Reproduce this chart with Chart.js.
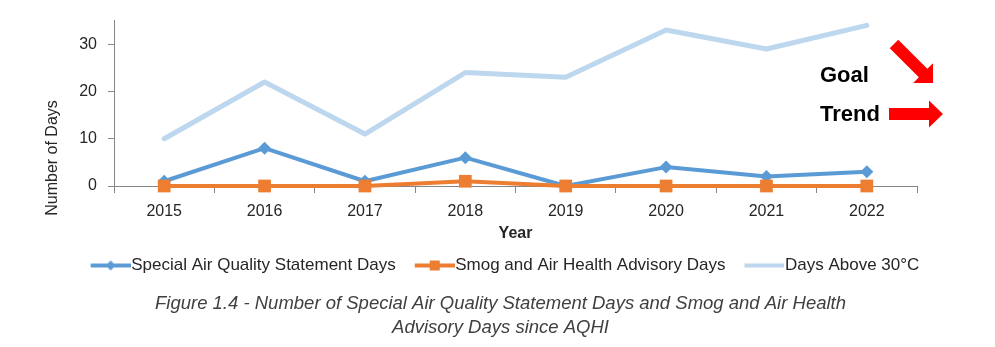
<!DOCTYPE html>
<html lang="en">
<head>
    <meta charset="UTF-8">
    <title>Special Air Quality Statement Days</title>
    <style>
        html, body { margin: 0; padding: 0; background: #fff; }
        #chart-container { width: 995px; height: 347px; }
    </style>
</head>
<body>
    <div id="chart-container">
        <canvas id="myChart"></canvas>
    </div>
    <script src="https://cdn.jsdelivr.net/npm/chart.js"></script>
    <script>
        // data
        const years = ['2015', '2016', '2017', '2018', '2019', '2020', '2021', '2022'];
        const statementDays = [1, 8, 1, 6, 0, 4, 2, 3];
        const smogDays = [0, 0, 0, 1, 0, 0, 0, 0];
        const hotDays = [10, 22, 11, 24, 23, 33, 29, 34];
        const yTicks = [0, 10, 20, 30];

        const BLUE = '#5B9BD5';
        const ORANGE = '#ED7D31';
        const LIGHT = '#BDD7EE';
        const AXIS = '#868686';
        const TEXT = '#262626';
        const FONT = "'Liberation Sans', Arial, sans-serif";

        // legend icon: line with the marker in the middle (left part left blank for spacing)
        function legendIcon(color, marker) {
            const c = document.createElement('canvas');
            c.width = 57; c.height = 14;
            const g = c.getContext('2d');
            g.strokeStyle = color;
            g.fillStyle = color;
            g.lineWidth = 4;
            g.beginPath();
            g.moveTo(17, 7); g.lineTo(57, 7);
            g.stroke();
            if (marker === 'diamond') {
                g.beginPath();
                g.moveTo(37, 2); g.lineTo(42, 7); g.lineTo(37, 12); g.lineTo(32, 7);
                g.closePath(); g.fill();
            } else if (marker === 'square') {
                g.fillRect(32, 2, 10, 10);
            }
            return c;
        }
        const icons = [legendIcon(BLUE, 'diamond'), legendIcon(ORANGE, 'square'), legendIcon(LIGHT, null)];

        function drawArrow(ctx, x0, y0, x1, y1, shaftW, headW, headLen) {
            const ang = Math.atan2(y1 - y0, x1 - x0);
            const len = Math.hypot(x1 - x0, y1 - y0);
            ctx.save();
            ctx.translate(x0, y0);
            ctx.rotate(ang);
            ctx.beginPath();
            ctx.moveTo(0, -shaftW / 2);
            ctx.lineTo(len - headLen, -shaftW / 2);
            ctx.lineTo(len - headLen, -headW / 2);
            ctx.lineTo(len, 0);
            ctx.lineTo(len - headLen, headW / 2);
            ctx.lineTo(len - headLen, shaftW / 2);
            ctx.lineTo(0, shaftW / 2);
            ctx.closePath();
            ctx.fill();
            ctx.restore();
        }

        // extra texts and the Goal / Trend arrows
        const extras = {
            id: 'extras',
            afterDraw(chart) {
                const ctx = chart.ctx;
                ctx.save();
                ctx.fillStyle = TEXT;
                ctx.font = '16px ' + FONT;
                ctx.textAlign = 'center';
                ctx.textBaseline = 'middle';
                ctx.translate(53, 158);
                ctx.rotate(-Math.PI / 2);
                ctx.fillText('Number of Days', 0, 0);
                ctx.restore();

                ctx.save();
                ctx.fillStyle = '#000';
                ctx.font = 'bold 22px ' + FONT;
                ctx.textAlign = 'left';
                ctx.textBaseline = 'middle';
                ctx.fillText('Goal', 820, 76);
                ctx.fillText('Trend', 820, 115);
                ctx.fillStyle = '#FF0000';
                drawArrow(ctx, 894, 44, 933, 83, 12, 28, 14);
                drawArrow(ctx, 889, 114, 943, 114, 12, 27, 14);
                ctx.restore();
            }
        };

        const ctx = document.getElementById('myChart').getContext('2d');
        new Chart(ctx, {
            type: 'line',
            data: {
                labels: years,
                datasets: [{
                    label: 'Special Air Quality Statement Days',
                    data: statementDays,
                    borderColor: BLUE,
                    backgroundColor: BLUE,
                    borderWidth: 4,
                    pointStyle: 'rectRot',
                    pointRadius: 6.5,
                    pointBorderWidth: 0,
                    clip: false,
                    order: 1
                }, {
                    label: 'Smog and Air Health Advisory Days',
                    data: smogDays,
                    borderColor: ORANGE,
                    backgroundColor: ORANGE,
                    borderWidth: 4,
                    pointStyle: 'rect',
                    pointRadius: 9,
                    pointBorderWidth: 0,
                    clip: false,
                    order: 0
                }, {
                    label: 'Days Above 30°C',
                    data: hotDays,
                    borderColor: LIGHT,
                    backgroundColor: LIGHT,
                    borderWidth: 5,
                    pointRadius: 0,
                    clip: false,
                    order: 2
                }]
            },
            options: {
                responsive: true,
                maintainAspectRatio: false,
                animation: false,
                devicePixelRatio: 1,
                elements: {
                    line: { borderJoinStyle: 'round', borderCapStyle: 'round', tension: 0 }
                },
                layout: {
                    padding: { left: 6, right: 0, top: 20, bottom: 0 }
                },
                plugins: {
                    tooltip: { enabled: false },
                    legend: {
                        position: 'bottom',
                        labels: {
                            usePointStyle: true,
                            pointStyleWidth: 41,
                            padding: 10,
                            color: TEXT,
                            font: { family: FONT, size: 17 },
                            generateLabels(chart) {
                                return chart.data.datasets.map((ds, i) => ({
                                    text: ds.label,
                                    pointStyle: icons[i],
                                    fillStyle: ds.borderColor,
                                    strokeStyle: ds.borderColor,
                                    lineWidth: 0,
                                    fontColor: TEXT,
                                    hidden: false,
                                    datasetIndex: i
                                }));
                            }
                        }
                    },
                    title: {
                        display: true,
                        position: 'bottom',
                        text: ['Figure 1.4 - Number of Special Air Quality Statement Days and Smog and Air Health',
                               'Advisory Days since AQHI'],
                        color: '#404040',
                        font: { family: FONT, size: 18.5, style: 'italic', weight: 'normal', lineHeight: '24px' },
                        padding: { top: 8, bottom: 7 }
                    }
                },
                scales: {
                    x: {
                        offset: true,
                        afterFit(scale) {
                            scale.height = scale.height - 5;
                        },
                        grid: {
                            offset: true,
                            drawOnChartArea: false,
                            drawTicks: true,
                            tickLength: 7,
                            color: AXIS
                        },
                        border: { color: AXIS, width: 1 },
                        ticks: {
                            color: TEXT,
                            padding: 13,
                            font: { family: FONT, size: 16, lineHeight: 0.75 }
                        },
                        title: {
                            display: true,
                            text: 'Year',
                            color: TEXT,
                            font: { family: FONT, size: 16, weight: 'bold', lineHeight: 1 },
                            padding: { top: 0, bottom: 5 }
                        }
                    },
                    y: {
                        min: 0,
                        max: 35,
                        afterBuildTicks(scale) {
                            scale.ticks = yTicks.map(v => ({ value: v }));
                        },
                        afterFit(scale) {
                            scale.width = 108;
                        },
                        grid: {
                            drawOnChartArea: false,
                            drawTicks: true,
                            tickLength: 6,
                            color: AXIS
                        },
                        border: { color: AXIS, width: 1 },
                        ticks: {
                            color: TEXT,
                            padding: 11,
                            font: { family: FONT, size: 16 }
                        }
                    },
                    // empty right-hand axis that only reserves the space to the right of the plot
                    spacer: {
                        position: 'right',
                        display: true,
                        grid: { display: false },
                        border: { display: false },
                        ticks: { display: false },
                        afterFit(scale) {
                            scale.width = 78;
                        }
                    }
                }
            },
            plugins: [extras]
        });
    </script>
</body>
</html>
